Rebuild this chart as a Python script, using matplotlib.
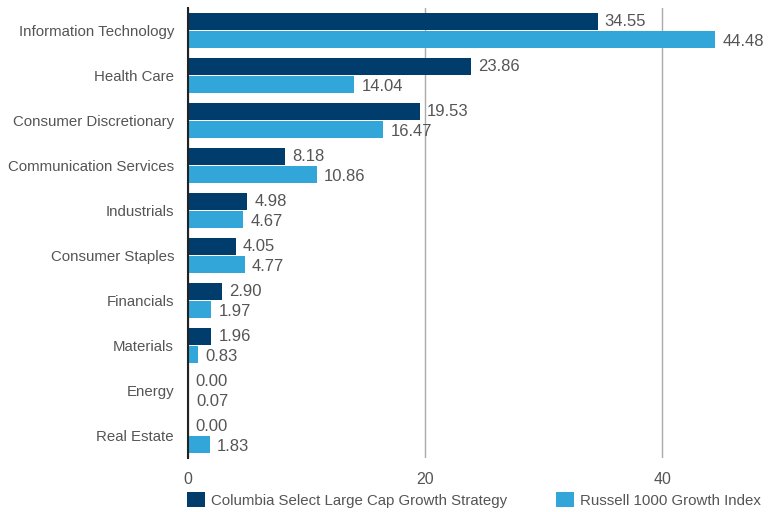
import matplotlib
matplotlib.use("Agg")
import matplotlib.pyplot as plt
import numpy as np

plt.rcParams['font.family'] = ['Liberation Sans', 'DejaVu Sans']

sectors = ["Information Technology", "Health Care", "Consumer Discretionary",
           "Communication Services", "Industrials", "Consumer Staples",
           "Financials", "Materials", "Energy", "Real Estate"]
strategy = [34.55, 23.86, 19.53, 8.18, 4.98, 4.05, 2.90, 1.96, 0.00, 0.00]
index = [44.48, 14.04, 16.47, 10.86, 4.67, 4.77, 1.97, 0.83, 0.07, 1.83]
names = ["Columbia Select Large Cap Growth Strategy", "Russell 1000 Growth Index"]

dark = "#003c6c"
light = "#33a6d9"
txt = "#555555"
fs = 10.8

fig = plt.figure(figsize=(7.69, 5.12), dpi=100)
ax = fig.add_axes([188 / 769, 1 - 458 / 512, (757 - 188) / 769, 450 / 512])

y = np.arange(len(sectors))
h = 0.38
ax.barh(y - h / 2 - 0.01, strategy, height=h, color=dark, label=names[0], zorder=3)
ax.barh(y + h / 2 + 0.01, index, height=h, color=light, label=names[1], zorder=3)

for i in range(len(sectors)):
    ax.text(strategy[i] + 0.6, y[i] - h / 2, f"{strategy[i]:.2f}", va="center",
            ha="left", fontsize=12, color=txt, zorder=4)
    ax.text(index[i] + 0.6, y[i] + h / 2 + 0.05, f"{index[i]:.2f}", va="center",
            ha="left", fontsize=12, color=txt, zorder=4)

ax.set_ylim(len(sectors) - 0.5, -0.5)
ax.set_xlim(0, 48)
ax.set_yticks(y)
ax.set_yticklabels(sectors, fontsize=fs, color=txt)
ax.set_xticks([0, 20, 40])
ax.set_xticklabels(["0", "20", "40"], fontsize=11.5, color=txt)
ax.tick_params(axis="both", length=0)
ax.tick_params(axis="y", pad=10)
ax.tick_params(axis="x", pad=10)
ax.grid(axis="x", color="#aaaaaa", linewidth=1, zorder=0)
for s in ["top", "right", "bottom"]:
    ax.spines[s].set_visible(False)
ax.spines["left"].set_color("#222222")
ax.spines["left"].set_linewidth(1.5)
ax.spines["left"].set_zorder(5)

leg = fig.legend(loc="center", bbox_to_anchor=(474 / 769, 1 - 500 / 512), ncol=2,
                 frameon=False, fontsize=fs, handlelength=1.2, handleheight=1.1,
                 handletextpad=0.4, columnspacing=3.3)
for t in leg.get_texts():
    t.set_color(txt)

fig.savefig("out.png", dpi=100)
